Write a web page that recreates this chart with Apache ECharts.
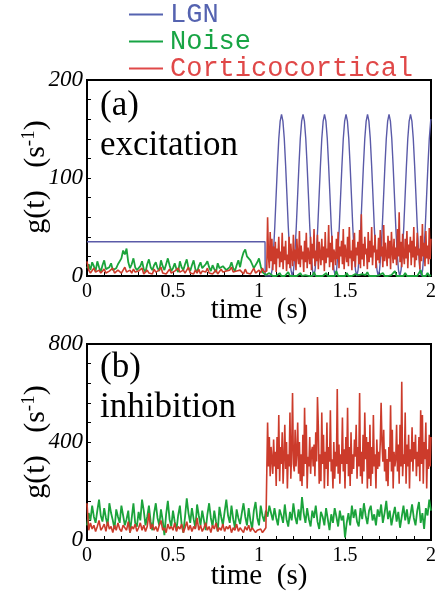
<!DOCTYPE html>
<html>
<head>
<meta charset="utf-8">
<script src="https://cdn.jsdelivr.net/npm/echarts@6/dist/echarts.min.js"></script>
<style>html,body{margin:0;padding:0;background:#fff}#c{width:439px;height:593px}</style>
</head>
<body>
<div id="c"></div>
<script>
// time grids: before the step 0..1.04 s step 0.01 s; after the step (cortico only) 1.045..2.0 s step 0.005 s
const timeStep = 0.01;
const lateStart = 1.045;
const lateStep = 0.005;
const xTickLabels = ['0', '0.5', '1', '1.5', '2'];
const yTicksA = [0, 100, 200];
const yTicksB = [0, 400, 800];

// LGN input, panel (a): [time, value]
const lgnPoints = [
 [0,35],[1.035,35],[1.036,0],[1.069,0],
 [1.076,6],[1.084,24],[1.092,51],[1.100,84],[1.107,112],[1.115,140],[1.123,158],[1.131,165],[1.139,158],[1.147,140],[1.155,112],[1.162,84],[1.170,51],[1.178,24],[1.186,6],
 [1.1935,0],[1.201,6],[1.209,24],[1.217,51],[1.225,84],[1.232,112],[1.240,140],[1.248,158],[1.256,165],[1.264,158],[1.272,140],[1.280,112],[1.287,84],[1.295,51],[1.303,24],[1.311,6],
 [1.3185,0],[1.326,6],[1.334,24],[1.342,51],[1.350,84],[1.357,112],[1.365,140],[1.373,158],[1.381,165],[1.389,158],[1.397,140],[1.405,112],[1.412,84],[1.420,51],[1.428,24],[1.436,6],
 [1.4435,0],[1.451,6],[1.459,24],[1.467,51],[1.475,84],[1.482,112],[1.490,140],[1.498,158],[1.506,165],[1.514,158],[1.522,140],[1.530,112],[1.537,84],[1.545,51],[1.553,24],[1.561,6],
 [1.5685,0],[1.576,6],[1.584,24],[1.592,51],[1.600,84],[1.607,112],[1.615,140],[1.623,158],[1.631,165],[1.639,158],[1.647,140],[1.655,112],[1.662,84],[1.670,51],[1.678,24],[1.686,6],
 [1.6935,0],[1.701,6],[1.709,24],[1.717,51],[1.725,84],[1.732,112],[1.740,140],[1.748,158],[1.756,165],[1.764,158],[1.772,140],[1.780,112],[1.787,84],[1.795,51],[1.803,24],[1.811,6],
 [1.8185,0],[1.826,6],[1.834,24],[1.842,51],[1.850,84],[1.857,112],[1.865,140],[1.873,158],[1.881,165],[1.889,158],[1.897,140],[1.905,112],[1.912,84],[1.920,51],[1.928,24],[1.936,6],
 [1.9435,0],[1.951,6],[1.959,24],[1.967,51],[1.975,84],[1.982,112],[1.990,140],[1.998,158],[2.0,160]
];

// Noise, panel (a), 0..2 s
const noiseA = [
 8,12,6,14,10,5,15,9,4,11,
 16,7,5,9,13,6,4,8,12,10,
 18,26,22,28,14,8,12,18,9,6,
 5,10,15,7,4,12,17,9,6,11,
 14,8,5,16,10,6,12,18,11,5,
 8,13,7,4,15,9,6,12,17,8,
 5,11,16,7,4,10,14,8,6,12,
 15,9,5,11,7,4,13,8,6,10,
 12,6,4,9,14,8,5,11,16,9,
 18,24,27,20,22,16,12,8,6,14,
 18,10,4,2,1,0,3,1,0,2,
 0,1,3,0,2,0,1,4,0,1,
 0,2,0,1,3,0,0,1,2,0,
 1,0,4,0,1,0,2,0,1,3,
 0,1,0,2,0,5,0,1,0,2,
 0,3,0,1,0,0,2,0,1,0,
 2,0,1,4,0,1,0,2,0,0,
 1,0,3,0,2,0,0,1,0,5,
 0,2,0,1,0,3,0,1,0,2,
 0,1,0,2,6,0,1,0,3,0,
 1
];

// Corticocortical, panel (a): before step (0..1.04) and after step (1.045..2.0)
const cortAEarly = [
 15,6,3,5,8,4,2,6,3,5,
 7,3,2,5,4,8,3,2,6,4,
 3,5,9,4,2,6,3,7,4,2,
 5,3,8,2,4,6,3,5,2,7,
 4,2,6,9,3,5,2,4,7,3,
 2,5,3,8,4,2,6,3,5,9,
 3,4,2,6,3,7,2,5,3,4,
 8,3,5,2,4,6,2,3,7,4,
 2,5,3,6,9,4,2,5,3,6,
 4,2,7,3,5,2,4,8,3,5,
 6,3,8,4,5
];
const cortALate = [
 5,60,20,8,45,15,38,6,30,12,
 35,4,28,18,40,9,25,14,44,7,
 30,16,36,5,22,12,40,8,33,19,
 10,42,15,27,6,38,20,12,46,9,
 31,17,25,4,36,14,44,8,29,21,
 12,40,6,33,18,48,10,26,15,42,
 7,35,22,11,38,16,30,5,45,13,
 28,19,52,9,34,14,41,6,27,23,
 11,38,17,45,8,30,20,36,12,48,
 7,32,24,14,40,10,50,18,26,6,
 37,15,44,9,29,21,35,12,47,8,
 63,17,33,10,40,22,28,7,45,14,
 36,19,50,11,31,24,42,8,27,16,
 39,13,47,20,30,9,52,15,34,22,
 10,41,18,36,7,45,25,13,38,17,
 29,11,48,20,65,14,35,9,43,22,
 12,38,18,46,8,32,24,40,11,36,
 19,50,9,30,16,44,21,28,7,41,
 15,53,20,34,10,46,18,31,12,49,
 17,38
];

// Noise, panel (b), 0..2 s
const noiseB = [
 60,110,80,140,95,70,120,165,100,75,
 130,90,60,150,110,80,45,125,95,70,
 140,100,60,85,120,30,90,150,70,55,
 115,80,165,120,60,95,140,75,40,110,
 150,90,60,125,80,20,105,160,85,55,
 120,75,40,100,140,65,30,95,170,110,
 70,130,85,50,145,100,60,120,80,40,
 105,150,90,55,120,75,35,135,95,60,
 115,165,100,70,140,85,50,125,90,65,
 110,150,95,60,130,80,45,120,155,90,
 60,140,100,75,120,95,140,110,80,130,
 90,60,125,100,70,145,85,55,115,80,
 150,95,65,125,80,175,110,70,130,85,
 55,120,90,140,75,45,115,95,60,130,
 85,40,105,70,130,95,55,120,80,100,
 10,70,110,60,140,90,125,75,55,130,
 85,150,100,65,120,140,80,105,60,125,
 95,145,70,110,160,85,120,60,100,135,
 75,115,50,95,140,80,125,65,100,145,
 90,60,120,155,70,110,45,130,100,165,
 120
];

// Corticocortical, panel (b): before step (0..1.04) and after step (1.045..2.0)
const cortBEarly = [
 150,40,70,45,60,35,55,80,40,50,
 65,35,75,45,55,30,60,40,70,45,
 35,60,50,40,75,30,55,45,65,35,
 50,70,40,60,35,55,110,45,65,40,
 55,35,60,80,40,50,30,65,45,55,
 40,70,35,55,45,65,30,50,75,40,
 60,35,55,45,90,40,60,35,50,70,
 40,55,30,60,45,70,35,50,40,65,
 35,55,45,60,30,50,40,65,35,50,
 45,30,55,40,60,35,50,45,30,40,
 35,45,30,40,50
];
const cortBLate = [
 50,480,300,420,260,380,330,270,410,300,
 360,220,420,290,510,240,380,310,440,230,
 330,470,290,400,210,350,300,520,250,370,
 600,310,280,450,300,360,480,270,400,240,
 350,220,430,260,540,310,470,210,340,300,
 420,270,360,380,300,390,260,440,320,584,
 460,230,350,240,520,310,430,210,360,290,
 480,220,380,320,530,280,330,210,400,250,
 360,300,616,270,390,230,350,310,500,280,
 370,210,420,310,540,260,380,220,440,270,
 350,290,410,340,470,250,380,300,600,260,
 360,230,430,280,520,330,420,210,400,250,
 470,220,380,270,510,300,350,210,410,290,
 360,300,400,560,400,320,450,280,370,240,
 330,220,380,320,550,280,450,210,360,300,
 330,470,280,390,230,470,300,646,260,350,
 310,520,230,390,300,430,210,370,320,460,
 280,400,330,430,260,360,300,420,240,530,
 310,510,230,400,330,480,210,370,290,430,
 300,420
];

const seriesNames = ['LGN', 'Noise', 'Corticocortical'];
const lineColors = ['#5a5aa8', '#1ba33b', '#cc3b2b'];
const legendColors = ['#5563b0', '#17a444', '#e04848'];

function toPairs(arr, t0, dt) { return arr.map((v, i) => [+(t0 + i * dt).toFixed(4), v]); }
function joined(early, late) { return toPairs(early, 0, timeStep).concat(toPairs(late, lateStart, lateStep)); }

const serif = '"Liberation Serif", "DejaVu Serif", serif';

function xAxis(gi) {
  return {
    type: 'value', gridIndex: gi, min: 0, max: 2, interval: 0.5,
    axisLine: { show: true, onZero: false, lineStyle: { color: '#000', width: 2 } },
    axisTick: { show: true, inside: true, length: 4, lineStyle: { color: '#000', width: 1 } },
    minorTick: { show: true, splitNumber: 5, length: 4, lineStyle: { color: '#000', width: 1 } },
    splitLine: { show: false },
    axisLabel: { color: '#000', fontFamily: serif, fontSize: 20, margin: 6,
      formatter: v => xTickLabels[Math.round(v * 2)] }
  };
}
function yAxis(gi, ticks) {
  const mx = ticks[ticks.length - 1];
  return {
    type: 'value', gridIndex: gi, min: 0, max: mx, interval: ticks[1],
    axisLine: { show: true, lineStyle: { color: '#000', width: 2 } },
    axisTick: { show: true, inside: true, length: 4, lineStyle: { color: '#000', width: 1 } },
    minorTick: { show: true, splitNumber: 5, length: 4, lineStyle: { color: '#000', width: 1 } },
    splitLine: { show: false },
    axisLabel: { color: '#000', fontFamily: serif, fontStyle: 'italic', fontSize: 23, margin: 4,
      formatter: v => String(v) }
  };
}

const chart = echarts.init(document.getElementById('c'), null, { renderer: 'canvas' });

function lineSeries(name, data, gi, color, width, z) {
  return { name, type: 'line', xAxisIndex: gi, yAxisIndex: gi, data, showSymbol: false, symbol: 'none',
    lineStyle: { color, width }, itemStyle: { color }, z, animation: false };
}

function textEl(text, x, y, size, rotation, extra) {
  return Object.assign({ type: 'text', x, y, rotation: rotation || 0, z: 100,
    style: Object.assign({ text, fill: '#000', font: size + 'px ' + serif }, extra || {}) });
}

const yNameRich = { a: { fontFamily: serif, fontSize: 30, fill: '#000' }, s: { fontFamily: serif, fontSize: 19, fill: '#000', verticalAlign: 'top', padding: [0, 0, 14, 0] } };

chart.setOption({
  animation: false,
  backgroundColor: '#fff',
  legend: {
    orient: 'vertical', left: 129, top: 1, itemGap: 0, padding: 0,
    itemWidth: 34, itemHeight: 2, icon: 'rect',
    data: seriesNames.map((n, i) => ({ name: n, itemStyle: { color: legendColors[i] },
      textStyle: { color: legendColors[i] } })),
    textStyle: { fontFamily: '"Liberation Mono", "DejaVu Sans Mono", monospace', fontSize: 27, lineHeight: 25.5, padding: [0, 0, 0, 2] }
  },
  grid: [
    { left: 87, top: 80, width: 345, height: 196, show: true, borderColor: '#000', borderWidth: 2, backgroundColor: 'transparent' },
    { left: 87, top: 344, width: 345, height: 196, show: true, borderColor: '#000', borderWidth: 2, backgroundColor: 'transparent' }
  ],
  xAxis: [xAxis(0), xAxis(1)],
  yAxis: [yAxis(0, yTicksA), yAxis(1, yTicksB)],
  series: [
    lineSeries('LGN', lgnPoints, 0, lineColors[0], 1.4, 2),
    lineSeries('Noise', toPairs(noiseA, 0, timeStep), 0, lineColors[1], 1.8, 3),
    lineSeries('Corticocortical', joined(cortAEarly, cortALate), 0, lineColors[2], 1.6, 4),
    lineSeries('Noise', toPairs(noiseB, 0, timeStep), 1, lineColors[1], 1.8, 3),
    lineSeries('Corticocortical', joined(cortBEarly, cortBLate), 1, lineColors[2], 1.6, 4)
  ],
  graphic: [
    textEl('(a)', 100, 123, 35, 0, { verticalAlign: 'bottom' }),
    textEl('excitation', 100, 163, 35, 0, { verticalAlign: 'bottom' }),
    textEl('(b)', 100, 385, 35, 0, { verticalAlign: 'bottom' }),
    textEl('inhibition', 100, 425, 35, 0, { verticalAlign: 'bottom' }),
    textEl('time  (s)', 259, 310, 29, 0, { align: 'center', verticalAlign: 'middle' }),
    textEl('time  (s)', 259, 576, 29, 0, { align: 'center', verticalAlign: 'middle' }),
    { type: 'text', x: 36, y: 177, rotation: Math.PI / 2, z: 100,
      style: { text: '{a|g(t)   (s}{s|-1}{a|)}', rich: yNameRich, align: 'center', verticalAlign: 'middle' } },
    { type: 'text', x: 36, y: 442, rotation: Math.PI / 2, z: 100,
      style: { text: '{a|g(t)   (s}{s|-1}{a|)}', rich: yNameRich, align: 'center', verticalAlign: 'middle' } }
  ]
});
</script>
</body>
</html>
